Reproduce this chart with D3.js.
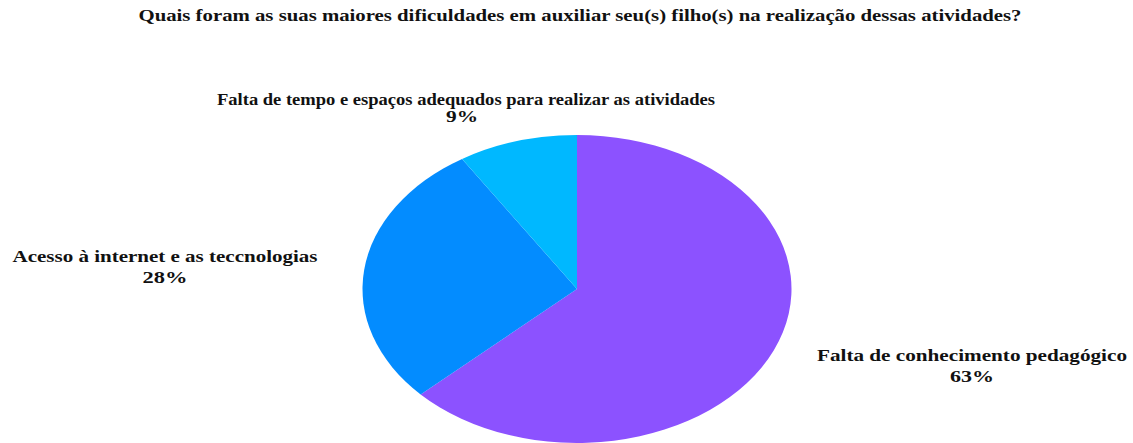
<!DOCTYPE html>
<html>
<head>
<meta charset="utf-8">
<script src="https://cdn.jsdelivr.net/npm/d3@7"></script>
<style>
  html, body { margin: 0; padding: 0; background: #ffffff; }
  svg text { font-family: "Liberation Serif", "Times New Roman", serif; font-weight: bold; fill: #111; }
</style>
</head>
<body>
<svg id="chart" width="1133" height="443"></svg>
<script>
const title = "Quais foram as suas maiores dificuldades em auxiliar seu(s) filho(s) na realização dessas atividades?";
const categories = [
  "Falta de conhecimento pedagógico",
  "Acesso à internet e as teccnologias",
  "Falta de tempo e espaços adequados para realizar as atividades"
];
const values = [63, 28, 9];
const colors = ["#8c52ff", "#038cff", "#00b8ff"];

const svg = d3.select("#chart");
const cx = 577, cy = 289, rx = 214.5, ry = 154;

// title, stretched to its layout width
svg.append("text")
  .attr("x", 580).attr("y", 21)
  .attr("text-anchor", "middle")
  .attr("textLength", 883)
  .attr("lengthAdjust", "spacingAndGlyphs")
  .style("font-size", "16px")
  .text(title);

// elliptical pie: circular arcs scaled horizontally
const pie = d3.pie().sort(null).value(d => d)(values);
const arc = d3.arc().innerRadius(0).outerRadius(ry);

const g = svg.append("g")
  .attr("transform", `translate(${cx},${cy}) scale(${rx / ry},1)`);

g.selectAll("path").data(pie).join("path")
  .attr("d", arc)
  .attr("fill", (d, i) => colors[i]);

// label layout: centre x, name baseline, value baseline, widths, font size
const labelPos = [
  { x: 972, y: 361, y2: 382, w: 310, w2: 44, fs: 17 },
  { x: 165, y: 262, y2: 283, w: 305, w2: 45, fs: 17 },
  { x: 466, y: 105, y2: 122, w: 498, w2: 32, fs: 16 }
];

const labels = svg.selectAll("g.lbl").data(pie).join("g").attr("class", "lbl");
labels.append("text")
  .attr("x", (d, i) => labelPos[i].x)
  .attr("y", (d, i) => labelPos[i].y)
  .attr("text-anchor", "middle")
  .attr("textLength", (d, i) => labelPos[i].w)
  .attr("lengthAdjust", "spacingAndGlyphs")
  .style("font-size", (d, i) => labelPos[i].fs + "px")
  .text((d, i) => categories[i]);
labels.append("text")
  .attr("x", (d, i) => labelPos[i].x - (i === 2 ? 4 : 0))
  .attr("y", (d, i) => labelPos[i].y2)
  .attr("text-anchor", "middle")
  .attr("textLength", (d, i) => labelPos[i].w2)
  .attr("lengthAdjust", "spacingAndGlyphs")
  .style("font-size", (d, i) => labelPos[i].fs + "px")
  .text(d => d.data + "%");
</script>
</body>
</html>
